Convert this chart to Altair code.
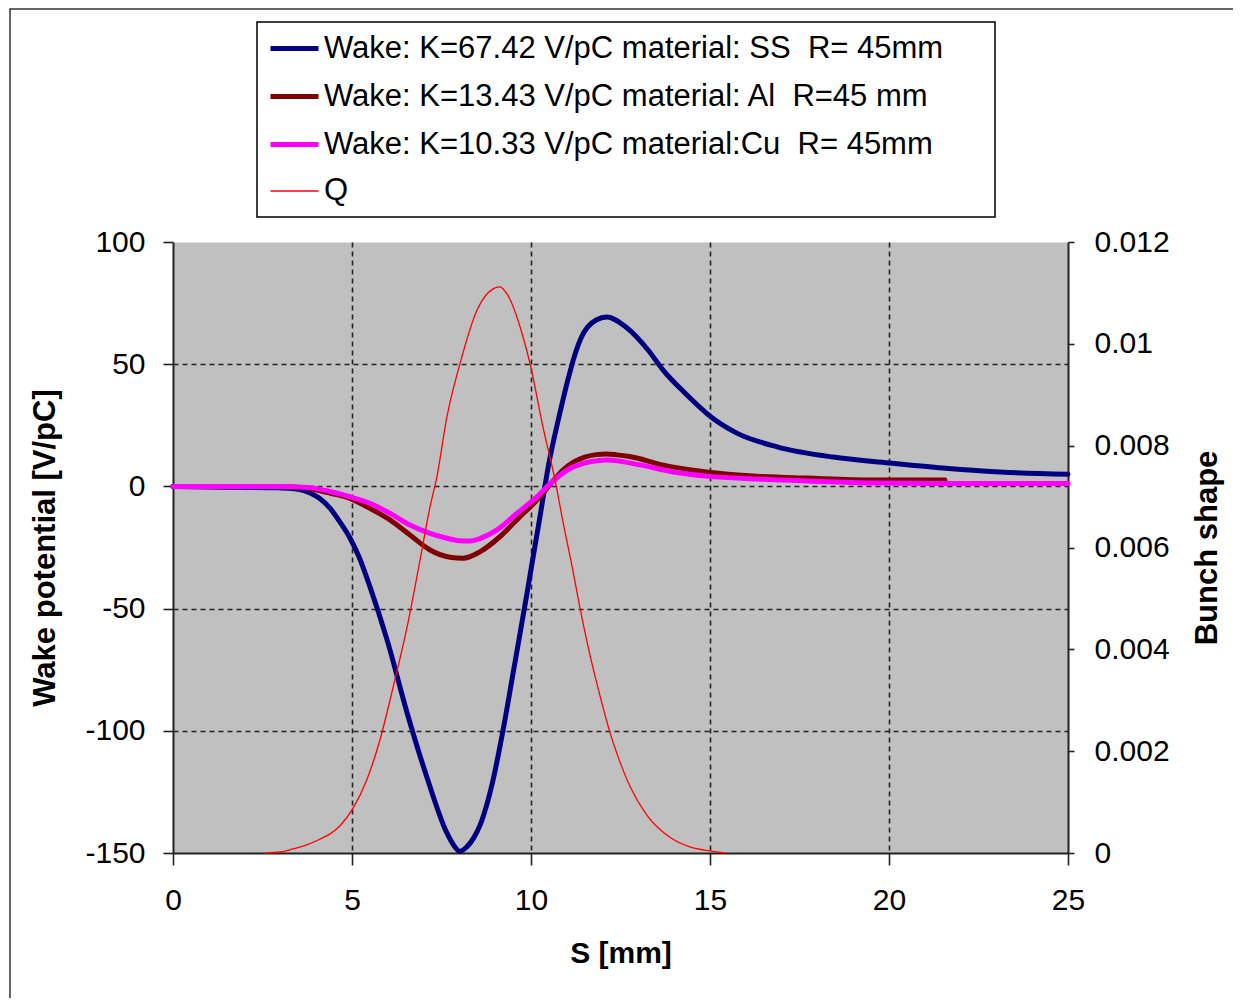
import altair as alt
import pandas as pd

# ---------------- data ----------------
NB = "\u00a0"
series_names = [
    "Wake: K=67.42 V/pC material: SS" + NB + " R= 45mm",
    "Wake: K=13.43 V/pC material: Al" + NB + " R=45 mm",
    "Wake: K=10.33 V/pC material:Cu" + NB + " R= 45mm",
    "Q",
]
series_colors = ["#000080", "#800000", "#FF00FF", "#FF0000"]
series_widths = [5, 5, 5, 1.3]

ss_s = [0, 1.5, 2.9, 3.5, 3.83, 4.1, 4.39, 4.66, 4.94, 5.2, 5.5, 5.98, 6.54, 7.09,
        7.65, 7.85, 8.02, 8.2, 8.4, 8.58, 8.77, 8.95, 9.22, 9.5, 9.89, 10.0,
        10.25, 10.48, 10.79, 11.1, 11.25, 11.41, 11.82, 12.12, 12.65, 13.27,
        13.69, 14.3, 15.03, 15.75, 16.9, 18.44, 20.0, 21.5, 23.1, 25]
ss_w = [0, -0.3, -0.6, -1.2, -2.7, -5, -9, -14.5, -21, -29, -41, -62.8, -92.7,
        -118.9, -141.8, -147, -149.3, -147.6, -143.8, -138.5, -130, -119.5,
        -99.7, -76.4, -43.6, -34, -12.5, 7.9, 29, 47.5, 55, 61.1, 68.1, 69.3,
        65.2, 55.8, 47.6, 38.2, 28.4, 21.8, 16.1, 12, 9.6, 7.5, 5.9, 5.0]

al_s = [0, 3.0, 3.5, 3.9, 4.39, 4.94, 5.5, 6.06, 6.62, 7.18, 7.74, 8.1, 8.58,
        9.13, 9.69, 10.17, 10.6, 10.9, 11.2, 11.5, 11.82, 12.1, 12.4, 12.75,
        13.79, 14.9, 16.3, 17.7, 19.55, 21.56]
al_w = [0, 0, -0.4, -1.2, -2.8, -4.9, -9, -13.7, -19.9, -26, -29, -29.4, -26.7,
        -20.6, -12.4, -5.6, 2.0, 6.8, 10.0, 12.0, 13.0, 13.3, 12.9, 12.2, 8.4,
        5.9, 4.2, 3.4, 2.6, 2.6]

cu_s = [0, 3.0, 3.83, 4.39, 4.94, 5.5, 6.06, 6.62, 7.18, 7.6, 8.0, 8.3, 8.6,
        9.05, 9.61, 10.17, 10.6, 11.18, 12.12, 13.04, 13.97, 14.9, 16.3, 17.7,
        19.55, 22, 25]
cu_w = [0, 0, -0.5, -2.1, -4.2, -6.9, -11, -15.8, -19.2, -21.0, -22.2, -22.3,
        -21.2, -17.8, -11, -4.2, 2.0, 8.0, 10.8, 8.8, 5.9, 4.2, 3.0, 2.2, 1.4,
        1.2, 1.2]

q_s = [2.6, 3.0, 3.35, 3.7, 4.1, 4.4, 4.66, 5.03, 5.42, 5.78, 6.15, 6.54, 6.9,
       7.18, 7.37, 7.65, 8.02, 8.49, 8.94, 9.13, 9.33, 9.78, 9.97, 10.34, 10.67,
       10.9, 11.15, 11.35, 11.65, 11.93, 12.2, 12.49, 12.77, 13.24, 13.88,
       14.44, 15.0, 15.42]
q_v = [0, 0.00002, 0.00008, 0.00015, 0.00027, 0.00038, 0.00053, 0.00088,
       0.00145, 0.00222, 0.00326, 0.00444, 0.00575, 0.0068, 0.00738, 0.00856,
       0.00962, 0.01066, 0.01108, 0.01112, 0.01098, 0.01013, 0.00962, 0.00835,
       0.00733, 0.00648, 0.00562, 0.00488, 0.00388, 0.00308, 0.00238, 0.00178,
       0.0013, 0.00074, 0.00031, 0.00012, 0.00004, 0]

x_ticks = [0, 5, 10, 15, 20, 25]
y_left_ticks = [-150, -100, -50, 0, 50, 100]
y_right_ticks = [0, 0.002, 0.004, 0.006, 0.008, 0.01, 0.012]

FONT = "Liberation Sans"
W, H = 895, 611

legend_def = alt.Legend(
    orient="none", legendX=95, legendY=-220, symbolType="stroke",
    symbolSize=2304, labelFontSize=31, labelFont=FONT, labelColor="black",
    labelLimit=1000, padding=0, rowPadding=6, labelOffset=3,
)

# ---------------- encodings ----------------
color_enc = alt.Color(
    "series:O", title=None, sort=series_names,
    scale=alt.Scale(type="ordinal", domain=series_names, range=series_colors),
    legend=legend_def,
)
width_enc = alt.StrokeWidth(
    "series:O", title=None, sort=series_names,
    scale=alt.Scale(type="ordinal", domain=series_names, range=series_widths),
    legend=legend_def,
)

x_enc = alt.X(
    "s:Q",
    title="S [mm]",
    scale=alt.Scale(domain=[0, 25], nice=False, zero=False),
    axis=alt.Axis(
        values=x_ticks, labelExpr="'' + datum.value", tickSize=12, labelFlush=False,
        labelPadding=20, labelFontSize=30, labelFont=FONT, labelColor="black",
        titleFont=FONT, titleFontSize=30, titleFontWeight="bold", titleColor="black",
        titleX=W / 2, titleY=100, titleBaseline="middle",
        grid=True, gridColor="#222", gridWidth=1.6, gridDash=[5, 4],
        gridOpacity={"condition": {"test": "datum.value == 0 || datum.value == 25", "value": 0}, "value": 1},
        domainColor="#222", domainWidth=2, tickColor="#222", tickWidth=1.6,
    ),
)

y_left = alt.Y(
    "W:Q",
    title="Wake potential [V/pC]",
    scale=alt.Scale(domain=[-150, 100], nice=False, zero=False),
    axis=alt.Axis(
        values=y_left_ticks, labelExpr="'' + datum.value", tickSize=10, labelFlush=False,
        labelPadding=18, labelFontSize=30, labelFont=FONT, labelColor="black",
        titleFont=FONT, titleFontSize=31, titleFontWeight="bold", titleColor="black",
        titleX=-128, titleY=H / 2, titleAngle=270, titleBaseline="middle", titleAlign="center",
        grid=True, gridColor="#222", gridWidth=1.6, gridDash=[5, 4],
        gridOpacity={"condition": {"test": "datum.value == 100 || datum.value == -150", "value": 0}, "value": 1},
        domainColor="#222", domainWidth=2, tickColor="#222", tickWidth=1.6,
    ),
)

y_right = alt.Y(
    "Q:Q",
    title="Bunch shape",
    scale=alt.Scale(domain=[0, 0.012], nice=False, zero=False),
    axis=alt.Axis(
        orient="right", values=y_right_ticks, labelExpr="'' + datum.value",
        tickSize=6, labelPadding=20, labelFontSize=30, labelFont=FONT, labelFlush=False,
        labelColor="black", grid=False,
        titleFont=FONT, titleFontSize=31, titleFontWeight="bold", titleColor="black",
        titleX=139, titleY=H / 2, titleAngle=270, titleBaseline="middle", titleAlign="center",
        domainColor="#222", domainWidth=2, tickColor="#222", tickWidth=1.6,
    ),
)

# ---------------- data frames ----------------
df_ss = pd.DataFrame({"s": ss_s, "W": ss_w, "series": series_names[0]})
df_al = pd.DataFrame({"s": al_s, "W": al_w, "series": series_names[1]})
df_cu = pd.DataFrame({"s": cu_s, "W": cu_w, "series": series_names[2]})
df_q = pd.DataFrame({"s": q_s, "Q": q_v, "series": series_names[3]})


def wake_line(df):
    return alt.Chart(df).mark_line(interpolate="monotone", strokeCap="round",
                                   strokeJoin="round").encode(
        x=x_enc, y=y_left, color=color_enc, strokeWidth=width_enc)


wake = alt.layer(wake_line(df_ss), wake_line(df_al), wake_line(df_cu))

q_line = alt.Chart(df_q).mark_line(interpolate="monotone").encode(
    x=x_enc, y=y_right, color=color_enc, strokeWidth=width_enc)

one = pd.DataFrame({"k": [0]})
# outer chart frame (decoration)
frame = alt.Chart(one).mark_rect(fill="transparent", stroke="#333", strokeWidth=1.5).encode(
    x=alt.value(-163), x2=alt.value(1100), y=alt.value(-233), y2=alt.value(900))
# legend box (decoration)
legend_box = alt.Chart(one).mark_rect(fill="white", stroke="black", strokeWidth=1.5).encode(
    x=alt.value(84), x2=alt.value(822), y=alt.value(-220), y2=alt.value(-25))

chart = alt.layer(frame, legend_box, wake, q_line).resolve_scale(
    y="independent"
).properties(
    width=W, height=H,
    autosize=alt.AutoSizeParams(type="none"),
    padding={"left": 165, "top": 234, "right": 165, "bottom": 145},
    background="white",
).configure_view(fill="#C0C0C0", stroke="transparent")

chart.save("out.html", embed_options={"renderer": "svg", "actions": False})
